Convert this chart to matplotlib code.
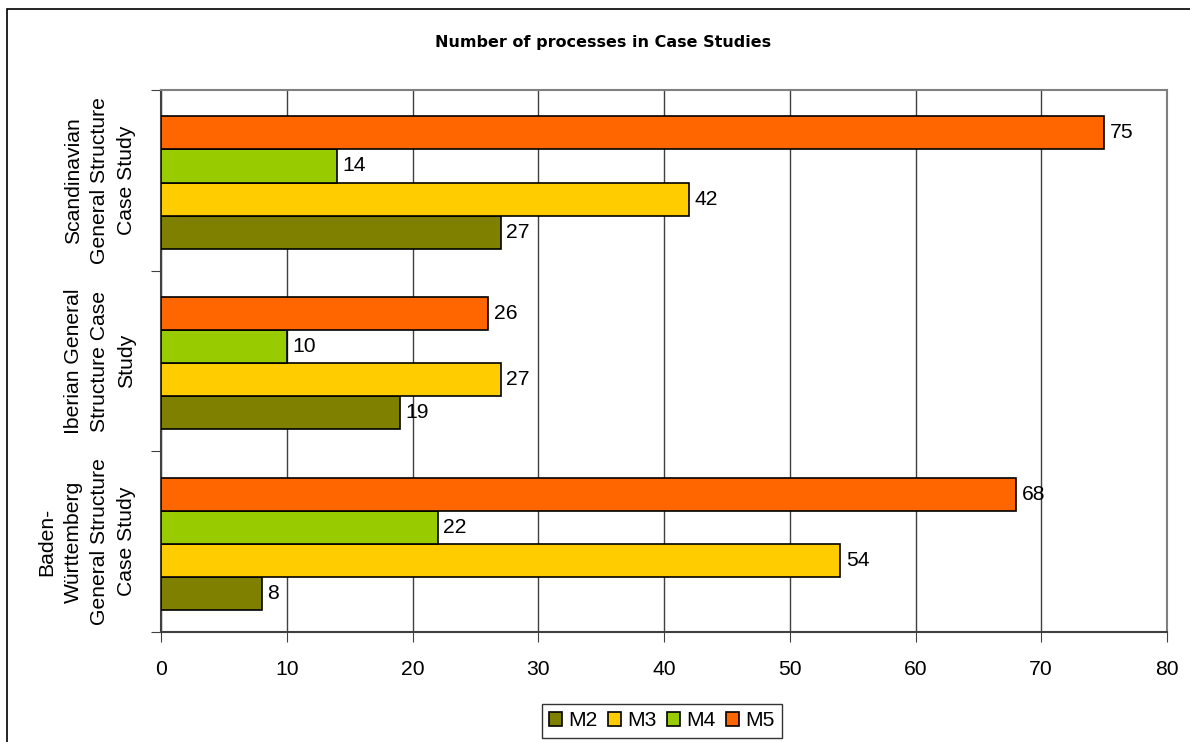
import numpy as np
import matplotlib
matplotlib.use("Agg")
import matplotlib.pyplot as plt
from matplotlib.patches import Rectangle

plt.rcParams['font.family'] = ['Liberation Sans', 'DejaVu Sans']

categories = [
    "Baden-\nWürttemberg\nGeneral Structure\nCase Study",
    "Iberian General\nStructure Case\nStudy",
    "Scandinavian\nGeneral Structure\nCase Study",
]
series_names = ["M2", "M3", "M4", "M5"]
m2 = [8, 19, 27]
m3 = [54, 27, 42]
m4 = [22, 10, 14]
m5 = [68, 26, 75]
colors = ["#808000", "#FFCC00", "#99CC00", "#FF6600"]

W, H = 1190, 742
fig = plt.figure(figsize=(W / 100, H / 100), dpi=100)
ax = fig.add_axes([161 / W, 1 - 632 / H, (1167 - 161) / W, (632 - 90) / H])

# outer chart frame (cut off at right and bottom like the reference)
fig.patches.append(Rectangle((7 / W, -0.1), 1.2, 1 - 9 / H + 0.1,
                             transform=fig.transFigure, fill=False,
                             edgecolor="black", linewidth=1.2))

y = np.arange(len(categories))
bh = 0.183
fs = 15.2
handles = []
for i, (name, vals) in enumerate(zip(series_names, [m2, m3, m4, m5])):
    pos = y + (i - 1.5) * bh - 0.012
    bars = ax.barh(pos, vals, height=bh, color=colors[i], edgecolor="black",
                   linewidth=1.2, label=name, zorder=3)
    handles.append(bars)
    for p, v in zip(pos, vals):
        ax.text(v + 0.45, p, str(v), va="center", ha="left", fontsize=fs, zorder=4)

ax.set_xlim(0, 80)
ax.set_ylim(-0.5, 2.5)
ax.set_xticks(range(0, 81, 10))
ax.set_xticklabels([str(t) for t in range(0, 81, 10)], fontsize=fs)
ax.set_yticks([-0.5, 0.5, 1.5, 2.5])
ax.set_yticklabels([])
ax.set_yticks(y, minor=True)
ax.set_yticklabels(categories, minor=True, rotation=90, fontsize=fs,
                   va="center", ha="right", multialignment="center",
                   linespacing=1.5)
ax.tick_params(axis="y", which="minor", length=0, pad=18)
ax.tick_params(axis="y", which="major", length=7, direction="out", color="#404040")
ax.tick_params(axis="x", length=7, direction="out", pad=13.5, color="#404040")

ax.grid(axis="x", color="#404040", linewidth=1, zorder=0)
for s in ["top", "right"]:
    ax.spines[s].set_color("#808080")
    ax.spines[s].set_linewidth(1.5)
for s in ["left", "bottom"]:
    ax.spines[s].set_color("#404040")
    ax.spines[s].set_linewidth(1.5)

fig.text(603 / W, 1 - 42 / H, "Number of processes in Case Studies",
         ha="center", va="center", fontsize=11.5, fontweight="bold",
         family="DejaVu Sans")

leg = fig.legend(handles=handles, labels=series_names, loc="center",
                 bbox_to_anchor=(662 / W, 1 - 721 / H), ncol=4, fontsize=fs,
                 frameon=True, fancybox=False, handlelength=0.6,
                 handleheight=0.6, handletextpad=0.3, columnspacing=0.5,
                 borderpad=0.35)
leg.get_frame().set_edgecolor("black")
leg.get_frame().set_linewidth(1.0)

fig.savefig("out.png", dpi=100)
